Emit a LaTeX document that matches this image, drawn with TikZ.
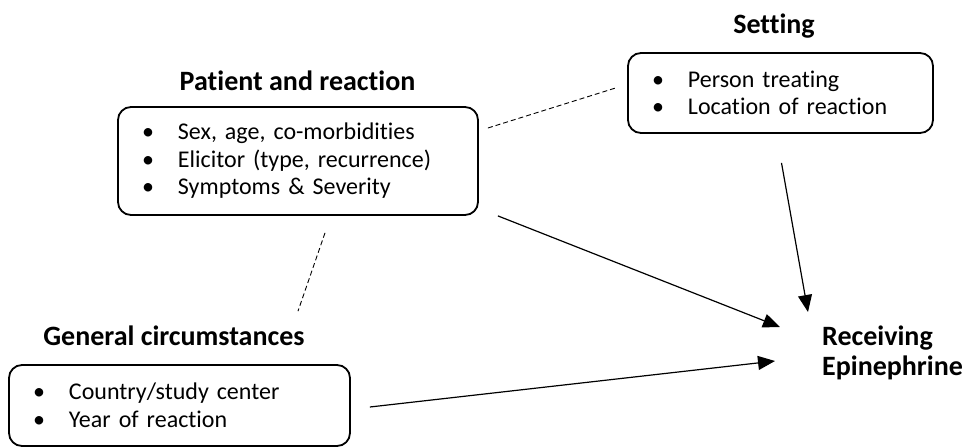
\documentclass[tikz,border=0pt]{standalone}
\usepackage{fontspec}
\setmainfont{Carlito}[Ligatures=NoCommon]
\usetikzlibrary{arrows.meta}
\newcommand{\bul}[1]{\makebox[36pt][l]{\textbullet}#1}

\begin{document}
\begin{tikzpicture}[x=1pt,y=-1pt,
  box/.style={draw,rounded corners=13pt,line width=1.8pt,inner xsep=24pt,
    align=left,text width=#1,font=\fontsize{24}{27.5}\selectfont},
  heading/.style={font=\fontsize{28}{30}\selectfont\bfseries},
  dep/.style={-{Triangle[length=17pt,width=14pt]},line width=1.2pt},
  link/.style={dash pattern=on 5pt off 3pt,line width=0.9pt}]
\useasboundingbox (0,0) rectangle (966,447);
% 方框
\node[box=312pt,minimum height=108pt] (patient) at (298,161)
  {\bul{Sex, age, co-morbidities}\\\bul{Elicitor (type, recurrence)}\\\bul{Symptoms \& Severity}};
\node[box=257pt,minimum height=80pt] (setting) at (780.5,93)
  {\bul{Person treating}\\\bul{Location of reaction}};
\node[box=293pt,minimum height=81pt] (general) at (179.5,405.5)
  {\bul{Country/study center}\\\bul{Year of reaction}};
% 标题
\node[heading,anchor=base] (pattitle) at (297.5,90) {Patient and reaction};
\node[heading,anchor=base] (settitle) at (774,33) {Setting};
\node[heading,anchor=base] (gentitle) at (174,345) {General circumstances};
\node[heading,anchor=west,align=left,inner sep=0pt] (recv) at (822,353) {Receiving\\Epinephrine};
% 连线
\draw[link] ([shift={(9,-33)}]patient.east) -- ([shift={(-10,-5.5)}]setting.west);
\draw[link] ([shift={(27,17)}]patient.south) -- ([shift={(118.5,-53)}]general.north);
\draw[dep] ([shift={(19,0)}]patient.south east) -- ([shift={(-42,-26)}]recv.west);
\draw[dep] ([shift={(1,29)}]setting.south) -- ([shift={(-14,-41)}]recv.west);
\draw[dep] ([shift={(19,1.5)}]general.east) -- ([shift={(-47,8)}]recv.west);
\end{tikzpicture}
\end{document}
